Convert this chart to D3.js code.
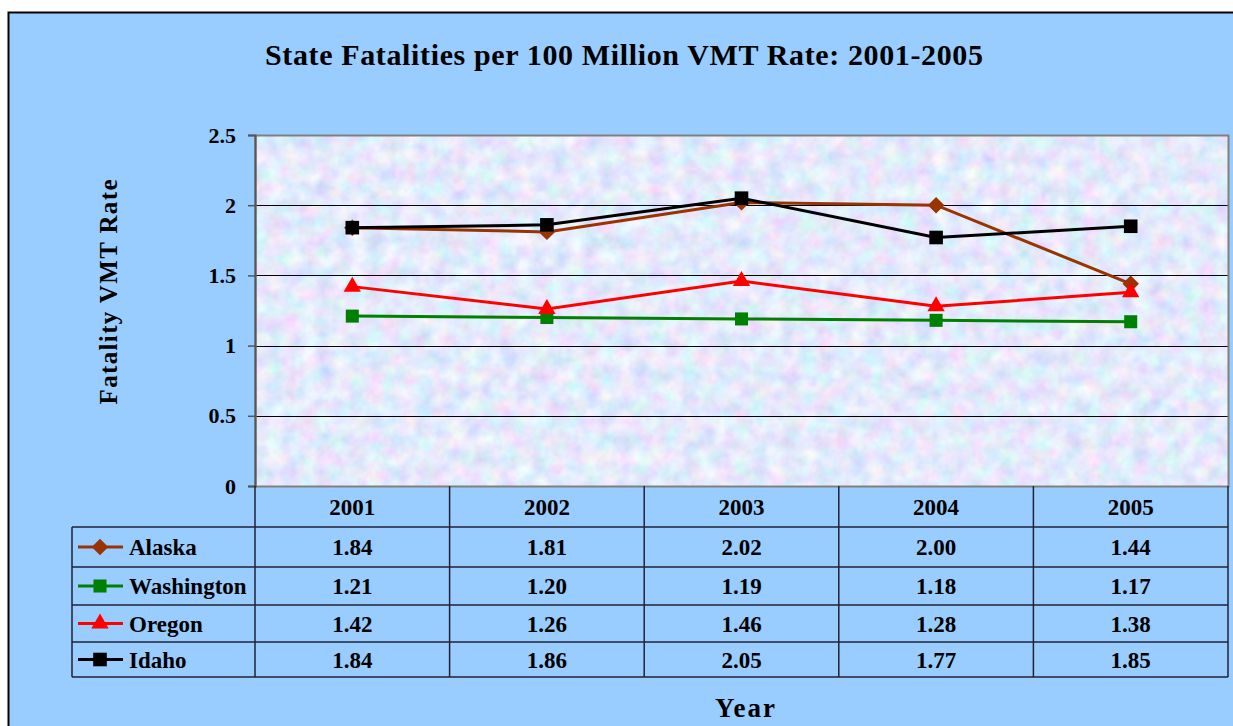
<!DOCTYPE html>
<html>
<head>
<meta charset="utf-8">
<script src="https://cdn.jsdelivr.net/npm/d3@7"></script>
<style>
  body { margin: 0; background: #fff; }
  svg { display: block; }
</style>
</head>
<body>
<script>
/* -----------------------------------------------------
 *  Data
 ----------------------------------------------------- */
const years = ["2001", "2002", "2003", "2004", "2005"];
const states = ["Alaska", "Washington", "Oregon", "Idaho"];
const alaska = [1.84, 1.81, 2.02, 2.0, 1.44];
const washington = [1.21, 1.2, 1.19, 1.18, 1.17];
const oregon = [1.42, 1.26, 1.46, 1.28, 1.38];
const idaho = [1.84, 1.86, 2.05, 1.77, 1.85];
const yTicks = [0, 0.5, 1, 1.5, 2, 2.5];

// square diamond (excel style), d3.symbolDiamond is too narrow
const squareDiamond = {
  draw(context, size) {
    const r = Math.sqrt(size / 2);
    context.moveTo(0, -r);
    context.lineTo(r, 0);
    context.lineTo(0, r);
    context.lineTo(-r, 0);
    context.closePath();
  }
};

const series = [
  { name: states[0], values: alaska, color: "#993300", symbol: squareDiamond, size: 135 },
  { name: states[1], values: washington, color: "#008000", symbol: d3.symbolSquare, size: 170 },
  { name: states[2], values: oregon, color: "#ff0000", symbol: d3.symbolTriangle, size: 130 },
  { name: states[3], values: idaho, color: "#000000", symbol: d3.symbolSquare, size: 185 }
];

/* -----------------------------------------------------
 *  Setup
 ----------------------------------------------------- */
const width = 1233;
const height = 726;
const plot = { left: 255, right: 1228, top: 135, bottom: 486 };
const tableLeft = 72;
const rowEdges = [486, 527, 567, 605, 642, 677];
const font = "'Liberation Serif', 'Times New Roman', serif";

const svg = d3
  .select("body")
  .append("svg")
  .attr("width", width)
  .attr("height", height);

svg.append("rect").attr("width", width).attr("height", height).attr("fill", "#fff");
svg
  .append("rect")
  .attr("x", 8.5)
  .attr("y", 12.5)
  .attr("width", width + 10)
  .attr("height", height + 10)
  .attr("fill", "#99ccff")
  .attr("stroke", "#000")
  .attr("stroke-width", 2);

// textured plot background
const defs = svg.append("defs");
const filt = defs
  .append("filter")
  .attr("id", "tex")
  .attr("x", 0)
  .attr("y", 0)
  .attr("width", "100%")
  .attr("height", "100%");
filt
  .append("feTurbulence")
  .attr("type", "fractalNoise")
  .attr("baseFrequency", 0.06)
  .attr("numOctaves", 3)
  .attr("seed", 11);
filt
  .append("feColorMatrix")
  .attr("type", "matrix")
  .attr("values", "0.55 0 0 0 0.5  0 0.45 0 0 0.6  0 0 0.25 0 0.84  0 0 0 0 1");

const x = d3.scaleBand().domain(years).range([plot.left, plot.right]);
const y = d3.scaleLinear().domain([0, 2.5]).range([plot.bottom, plot.top]);

svg
  .append("rect")
  .attr("x", plot.left)
  .attr("y", plot.top)
  .attr("width", plot.right - plot.left)
  .attr("height", plot.bottom - plot.top)
  .attr("fill", "#cad6f5")
  .attr("filter", "url(#tex)");

// gridlines
svg
  .selectAll(".grid")
  .data(yTicks.filter((d) => d > 0 && d < 2.5))
  .enter()
  .append("line")
  .attr("x1", plot.left)
  .attr("x2", plot.right)
  .attr("y1", (d) => Math.round(y(d)) + 0.5)
  .attr("y2", (d) => Math.round(y(d)) + 0.5)
  .attr("stroke", "#000")
  .attr("stroke-width", 1);

svg
  .append("rect")
  .attr("x", plot.left + 0.5)
  .attr("y", plot.top + 0.5)
  .attr("width", plot.right - plot.left)
  .attr("height", plot.bottom - plot.top)
  .attr("fill", "none")
  .attr("stroke", "#808080")
  .attr("stroke-width", 2);

// y axis
const yAxis = svg
  .append("g")
  .attr("transform", `translate(${plot.left},0)`)
  .call(d3.axisLeft(y).tickValues(yTicks).tickSize(7).tickPadding(12).tickFormat(d3.format("")));
yAxis.select(".domain").attr("stroke", "#555").attr("stroke-width", 2);
yAxis.selectAll(".tick line").attr("stroke", "#555").attr("stroke-width", 1.5);
yAxis
  .selectAll(".tick text")
  .attr("fill", "#000")
  .style("font-family", font)
  .style("font-weight", "bold")
  .style("font-size", "22px");

/* -----------------------------------------------------
 *  Lines
 ----------------------------------------------------- */
const line = d3
  .line()
  .x((d, i) => x(years[i]) + x.bandwidth() / 2)
  .y((d) => y(d));

series.forEach((s) => {
  svg
    .append("path")
    .attr("d", line(s.values))
    .attr("fill", "none")
    .attr("stroke", s.color)
    .attr("stroke-width", 3);
  svg
    .selectAll(".m-" + s.name)
    .data(s.values)
    .enter()
    .append("path")
    .attr("d", d3.symbol().type(s.symbol).size(s.size))
    .attr("transform", (d, i) => `translate(${x(years[i]) + x.bandwidth() / 2},${y(d)})`)
    .attr("fill", s.color);
});

/* -----------------------------------------------------
 *  Data table
 ----------------------------------------------------- */
const tbl = svg.append("g").attr("stroke", "#222233").attr("stroke-width", 1.5);
// horizontal lines
rowEdges.slice(1).forEach((ry) => {
  tbl.append("line").attr("x1", tableLeft).attr("x2", plot.right).attr("y1", ry).attr("y2", ry);
});
// verticals
tbl.append("line").attr("x1", tableLeft).attr("x2", tableLeft).attr("y1", rowEdges[1]).attr("y2", rowEdges[5]);
years.forEach((yr) => {
  tbl.append("line").attr("x1", x(yr)).attr("x2", x(yr)).attr("y1", rowEdges[0]).attr("y2", rowEdges[5]);
});
tbl.append("line").attr("x1", plot.right).attr("x2", plot.right).attr("y1", rowEdges[0]).attr("y2", rowEdges[5]);

const txt = (sel) =>
  sel
    .style("font-family", font)
    .style("font-weight", "bold")
    .style("font-size", "23px")
    .attr("fill", "#000");

svg
  .selectAll(".yr")
  .data(years)
  .enter()
  .append("text")
  .attr("x", (d) => x(d) + x.bandwidth() / 2)
  .attr("y", (rowEdges[0] + rowEdges[1]) / 2 + 8)
  .attr("text-anchor", "middle")
  .text((d) => d)
  .call(txt);

series.forEach((s, r) => {
  const cy = (rowEdges[r + 1] + rowEdges[r + 2]) / 2;
  svg
    .append("line")
    .attr("x1", 78)
    .attr("x2", 123)
    .attr("y1", cy)
    .attr("y2", cy)
    .attr("stroke", s.color)
    .attr("stroke-width", 3);
  svg
    .append("path")
    .attr("d", d3.symbol().type(s.symbol).size(s.size))
    .attr("transform", `translate(100,${cy})`)
    .attr("fill", s.color);
  svg
    .append("text")
    .attr("x", 129)
    .attr("y", cy + 8)
    .text(s.name)
    .call(txt);
  svg
    .selectAll(".v" + r)
    .data(s.values)
    .enter()
    .append("text")
    .attr("x", (d, i) => x(years[i]) + x.bandwidth() / 2)
    .attr("y", cy + 8)
    .attr("text-anchor", "middle")
    .text((d) => d3.format(".2f")(d))
    .call(txt);
});

/* -----------------------------------------------------
 *  Titles
 ----------------------------------------------------- */
svg
  .append("text")
  .attr("x", 624)
  .attr("y", 65)
  .attr("text-anchor", "middle")
  .attr("textLength", 718)
  .attr("lengthAdjust", "spacing")
  .text("State Fatalities per 100 Million VMT Rate: 2001-2005")
  .style("font-family", font)
  .style("font-weight", "bold")
  .style("font-size", "30px");

svg
  .append("text")
  .attr("x", 745)
  .attr("y", 717)
  .attr("text-anchor", "middle")
  .attr("textLength", 60)
  .attr("lengthAdjust", "spacing")
  .text("Year")
  .style("font-family", font)
  .style("font-weight", "bold")
  .style("font-size", "27px");

svg
  .append("text")
  .attr("transform", "translate(117,292) rotate(-90)")
  .attr("text-anchor", "middle")
  .attr("textLength", 225)
  .attr("lengthAdjust", "spacing")
  .text("Fatality VMT Rate")
  .style("font-family", font)
  .style("font-weight", "bold")
  .style("font-size", "25px");
</script>
</body>
</html>
